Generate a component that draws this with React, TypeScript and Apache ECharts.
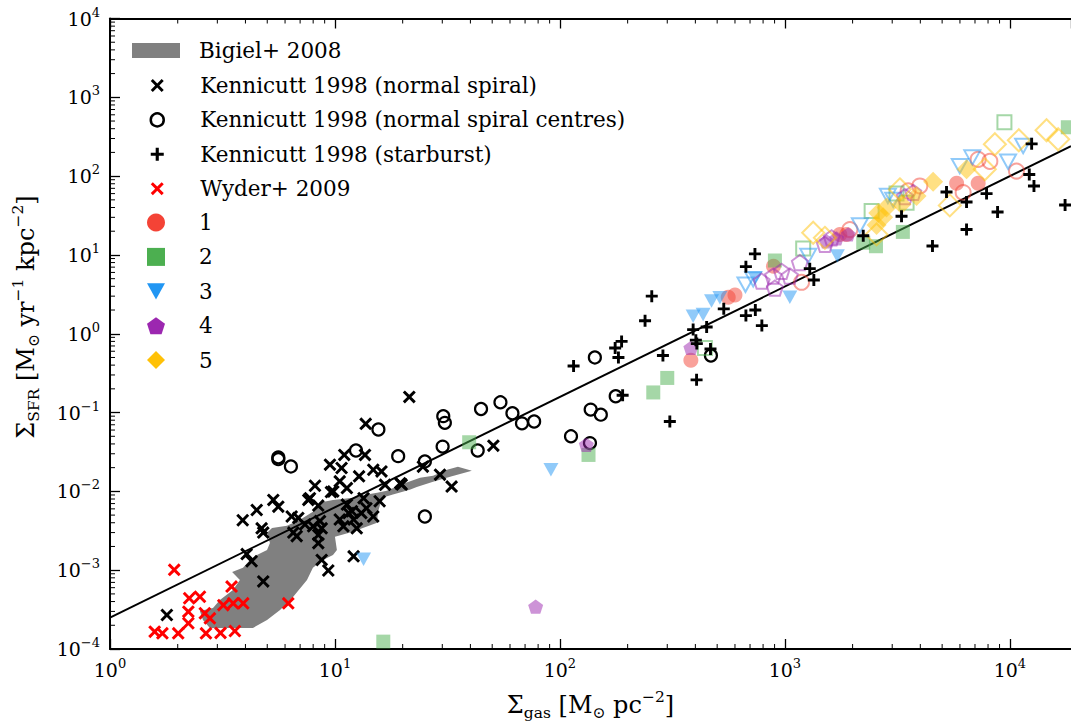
import React, { useEffect, useRef } from 'react';
import * as echarts from 'echarts';

// ---------- data (x = Σgas [M☉ pc^-2], y = ΣSFR [M☉ yr^-1 kpc^-2]) ----------
const X_MIN = 1;
const X_MAX = 18700;
const Y_MIN = 1e-4;
const Y_MAX = 1e4;

const bigielOutline: number[][] = [
  [2.51, 3.04e-4], [2.87, 3.32e-4], [3.08, 4.2e-4], [3.52, 5.6e-4], [3.78, 7.5e-4], [3.49, 9.5e-4],
  [3.9, 1.07e-3], [4.19, 1.35e-3], [4.5, 1.56e-3], [4.99, 1.81e-3], [5.14, 2.22e-3], [4.99, 2.98e-3],
  [5.25, 3.44e-3], [6.12, 3.66e-3], [6.99, 4.36e-3], [7.98, 5.5e-3], [8.58, 7.2e-3], [9.8, 7.8e-3],
  [12.0, 8.3e-3], [13.9, 9.1e-3], [15.4, 9.6e-3], [17.0, 0.0102], [20.1, 0.0125], [23.9, 0.0149],
  [27.3, 0.0158], [31.5, 0.0188], [35.2, 0.0206], [40.6, 0.0183],
  [32.5, 0.0153], [27.3, 0.0132], [23.1, 0.0114], [21.5, 0.0105], [18.1, 9.1e-3], [16.2, 8.3e-3],
  [15.5, 5.35e-3], [15.4, 3.99e-3], [13.3, 3.44e-3], [12.0, 3.07e-3], [10.0, 2.65e-3], [10.2, 1.81e-3],
  [9.8, 1.56e-3], [8.84, 1.35e-3], [7.98, 1.07e-3], [7.51, 7.5e-4], [6.51, 4.58e-4], [5.7, 3.13e-4],
  [4.99, 2.33e-4], [4.32, 1.85e-4], [3.52, 1.85e-4], [2.78, 1.85e-4], [2.59, 2.33e-4],
];

const kennicuttNormal: number[][] = [
  [21.4, 0.158], [13.7, 0.072], [50.6, 0.038], [11.0, 0.029], [13.6, 0.029], [9.5, 0.0218], [10.7, 0.0198],
  [29.3, 0.0163], [33.0, 0.0115], [19.5, 0.0127], [19.8, 0.0122], [14.8, 0.0188], [16.1, 0.0179],
  [12.8, 0.0155], [8.15, 0.0118], [10.5, 0.0134], [11.3, 0.011], [9.83, 0.01], [9.6, 0.0098], [16.7, 0.0121],
  [5.32, 0.0078], [5.6, 0.0064], [4.49, 0.0058], [3.89, 0.0043], [4.72, 0.0034], [4.8, 0.003], [6.42, 0.0048],
  [6.87, 0.0046], [7.61, 0.0078], [7.74, 0.0082], [8.43, 0.0066], [6.53, 0.003], [6.76, 0.0027],
  [7.36, 0.0038], [8.0, 0.0036], [8.58, 0.0042], [8.73, 0.0034], [8.43, 0.0028], [8.43, 0.0022],
  [10.5, 0.0044], [10.9, 0.0036], [11.5, 0.0053], [12.1, 0.0044], [12.5, 0.0034], [13.4, 0.0082],
  [13.8, 0.0061], [13.1, 0.0053], [14.8, 0.0048], [15.8, 0.0075], [11.3, 0.0068], [11.9, 0.0056],
  [4.05, 0.0016], [4.26, 0.0013], [4.8, 0.00072], [8.73, 0.00135], [9.34, 0.00099], [12.1, 0.0015],
  [1.79, 0.00027], [24.6, 0.0206],
];

const kennicuttCentres: number[][] = [
  [5.6, 0.027], [5.6, 0.0256], [6.37, 0.0207], [12.4, 0.033], [15.6, 0.061], [19.1, 0.028], [25.1, 0.024],
  [30.3, 0.09], [30.8, 0.074], [30.1, 0.037], [44.6, 0.111], [43.1, 0.033], [54.4, 0.135], [25.1, 0.0048],
  [61.5, 0.098], [67.8, 0.073], [76.8, 0.077], [112, 0.05], [137, 0.109], [152, 0.094], [136, 0.041],
  [143, 0.5], [177, 0.161], [469, 0.53],
];

const kennicuttStarburst: number[][] = [
  [115, 0.39], [176, 0.66], [188, 0.8], [182, 0.5], [190, 0.166], [256, 3.0], [239, 1.46], [287, 0.53],
  [308, 0.077], [391, 1.13], [449, 1.22], [402, 0.83], [406, 0.75], [405, 0.26], [467, 0.64], [535, 2.07],
  [671, 7.1], [736, 10.3], [671, 1.7], [739, 2.0], [790, 1.27], [1290, 6.7], [1345, 4.8], [2230, 17.5],
  [3300, 31], [4530, 13], [5230, 63], [6420, 47], [6420, 21], [7880, 60], [8820, 35], [12500, 257],
  [12200, 105], [12800, 75], [17600, 43],
];

const wyder: number[][] = [
  [1.93, 0.00101], [3.47, 0.00062], [2.25, 0.00044], [2.51, 0.00046], [2.23, 0.000298], [3.19, 0.00036],
  [3.53, 0.00038], [3.91, 0.00038], [2.64, 0.000284], [2.78, 0.000245], [2.23, 0.000212], [6.2, 0.00038],
  [1.58, 0.000166], [1.71, 0.000158], [2.01, 0.000158], [2.67, 0.000158], [3.1, 0.00016], [3.59, 0.000169],
];

const fitLine: number[][] = [[1, 2.5e-4], [18700, 240]];

const set1Filled: number[][] = [[382, 0.46], [560, 2.9], [600, 3.1], [890, 7.2], [1755, 18.2], [1880, 18.2], [5800, 81], [7230, 81]];
const set1Open: number[][] = [[1186, 4.5], [1945, 21], [3530, 65], [3980, 75], [6200, 62], [7230, 163], [8150, 154], [10700, 116]];
const set2Filled: number[][] = [[16.4, 0.000124], [39.5, 0.042], [134, 0.029], [260, 0.18], [300, 0.275], [903, 8.5], [2230, 14.3], [2540, 12.9], [3345, 19.6], [18100, 417]];
const set2Open: number[][] = [[441, 0.66], [1206, 12.1], [2430, 36], [3135, 60], [3475, 46], [9460, 483]];
const set3Filled: number[][] = [[13.4, 0.00138], [91.2, 0.0188], [391, 1.67], [433, 1.75], [472, 2.6], [514, 2.86], [736, 5.1], [1052, 2.9], [1711, 9.7]];
const set3Open: number[][] = [[668, 4.2], [723, 4.9], [1270, 9.7], [2155, 23.7], [2870, 56], [3030, 50], [5990, 134], [6810, 172], [9820, 152], [11460, 241]];
const set4Filled: number[][] = [[78, 0.000344], [131, 0.039], [382, 0.66], [1532, 14.9], [1698, 16.2], [1911, 18.2]];
const set4Open: number[][] = [[788, 4.65], [887, 5.4], [967, 6.2], [1052, 5.4], [1166, 8.0], [903, 3.8], [1506, 13.6], [1614, 16.5], [3720, 62], [3415, 55]];
const set5Filled: number[][] = [[2600, 34], [2830, 40], [2735, 30], [2556, 24], [3300, 44], [3850, 56], [4560, 85], [6420, 122]];
const set5Open: number[][] = [[1336, 19.1], [1506, 16.5], [2556, 18.2], [3245, 68], [5410, 42.5], [7740, 122], [8580, 254], [10960, 285], [14560, 382], [16400, 294]];

const minorMultipliers = [2, 3, 4, 5, 6, 7, 8, 9];
const xDecades = [1, 10, 100, 1000, 10000];
const yDecades = [1e-4, 1e-3, 1e-2, 1e-1, 1, 10, 100, 1000];

// ---------- styles ----------
const FONT = 'DejaVu Serif';
const RED = '#F44336';
const GREEN = '#4CAF50';
const BLUE = '#2196F3';
const PURPLE = '#9C27B0';
const AMBER = '#FFC107';

const plusPath = 'path://M3.8,0L6.2,0L6.2,3.8L10,3.8L10,6.2L6.2,6.2L6.2,10L3.8,10L3.8,6.2L0,6.2L0,3.8L3.8,3.8Z';
const xPath = 'path://M0,1.6L1.6,0L5,3.4L8.4,0L10,1.6L6.6,5L10,8.4L8.4,10L5,6.6L1.6,10L0,8.4L3.4,5Z';
const triDownPath = 'path://M0,0L10,0L5,9Z';
const pentagonPath = 'path://M0,-1L0.951,-0.309L0.588,0.809L-0.588,0.809L-0.951,-0.309Z';

const supLabel = (v: number) => {
  const e = Math.round(Math.log10(v));
  return `{b|10}{s|${e < 0 ? '\u2212' + -e : e}}`;
};

const tickRich = {
  b: { fontFamily: FONT, fontSize: 19, color: '#000', lineHeight: 26 },
  s: { fontFamily: FONT, fontSize: 13, color: '#000', verticalAlign: 'top', lineHeight: 14 },
};

const nameRich = {
  b: { fontFamily: FONT, fontSize: 24, color: '#000', lineHeight: 32 },
  sub: { fontFamily: FONT, fontSize: 15.5, color: '#000', verticalAlign: 'bottom', lineHeight: 17 },
  sup: { fontFamily: FONT, fontSize: 15.5, color: '#000', verticalAlign: 'top', lineHeight: 17 },
};

function buildOption() {
  const minorTicks: number[][] = [];
  xDecades.forEach((d) => minorMultipliers.forEach((m) => { if (d * m < X_MAX) minorTicks.push([d * m, 1, 0]); }));
  yDecades.forEach((d) => minorMultipliers.forEach((m) => minorTicks.push([1, d * m, 1])));

  const logAxisCommon = {
    type: 'log' as const,
    logBase: 10,
    splitLine: { show: false },
    axisLine: { show: true, lineStyle: { color: '#000', width: 2 } },
    axisTick: { show: true, inside: true, length: 10, lineStyle: { color: '#000', width: 1.3 } },
  };

  const legendText = (pad: number) => ({
    fontFamily: FONT, fontSize: 21.5, color: '#000', lineHeight: 24, padding: [0, 0, 0, pad],
  });

  const filled = (name: string, data: number[][], symbol: string, size: number, color: string) => ({
    type: 'scatter', name, data, symbol, symbolSize: size, symbolKeepAspect: true,
    itemStyle: { color, opacity: 0.5 }, z: 4,
  });
  const open = (name: string, data: number[][], symbol: string, size: number, color: string) => ({
    type: 'scatter', name, data, symbol, symbolSize: size, symbolKeepAspect: true,
    itemStyle: { color: 'rgba(0,0,0,0)', borderColor: color, borderWidth: 2, opacity: 0.5 }, z: 4,
  });
  const legendOnly = (name: string, symbol: string, color: string) => ({
    type: 'scatter', name, data: [], symbol, symbolKeepAspect: true, itemStyle: { color, opacity: 1 },
  });

  return {
    animation: false,
    backgroundColor: '#fff',
    grid: { left: 110, right: 0, top: 18.5, bottom: 74, containLabel: false, outerBoundsMode: 'none' },
    xAxis: [
      {
        ...logAxisCommon,
        position: 'bottom',
        min: X_MIN,
        max: X_MAX,
        axisLabel: { margin: 8, formatter: supLabel, rich: tickRich, showMaxLabel: false },
        name: '{b|\u03A3}{sub|gas}{b| [M}{sub|\u2299}{b| pc}{sup|\u22122}{b|]}',
        nameLocation: 'middle',
        nameGap: 40,
        nameTextStyle: { rich: nameRich },
      },
      {
        ...logAxisCommon,
        position: 'top',
        min: X_MIN,
        max: X_MAX,
        axisLabel: { show: false },
      },
    ],
    yAxis: {
      ...logAxisCommon,
      min: Y_MIN,
      max: Y_MAX,
      axisLabel: { margin: 10, formatter: supLabel, rich: tickRich },
    },
    legend: [
      {
        data: [{ name: 'Bigiel+ 2008', icon: 'rect', itemStyle: { color: '#808080', opacity: 1 } }],
        orient: 'vertical', left: 132, top: 38.5, padding: 0, itemGap: 10.4,
        itemWidth: 48, itemHeight: 15, selectedMode: false, textStyle: legendText(14),
      },
      {
        data: [
          { name: 'Kennicutt 1998 (normal spiral)', icon: xPath },
          {
            name: 'Kennicutt 1998 (normal spiral centres)', icon: 'circle',
            itemStyle: { color: 'rgba(0,0,0,0)', borderColor: '#000', borderWidth: 2.5 },
          },
          { name: 'Kennicutt 1998 (starburst)', icon: plusPath },
          { name: 'Wyder+ 2009', icon: xPath },
        ],
        orient: 'vertical', left: 149.5, top: 73.5, padding: 0, itemGap: 10.4,
        itemWidth: 13, itemHeight: 13, selectedMode: false, textStyle: legendText(31.5),
      },
      {
        data: ['1', '2', '3', '4', '5'],
        orient: 'vertical', left: 147, top: 210.5, padding: 0, itemGap: 10.4,
        itemWidth: 18, itemHeight: 18, selectedMode: false, textStyle: legendText(29),
      },
    ],
    graphic: [
      {
        type: 'text',
        x: 26,
        y: 317,
        rotation: Math.PI / 2,
        style: {
          text: '{b|\u03A3}{sub|SFR}{b| [M}{sub|\u2299}{b| yr}{sup|\u22121}{b| kpc}{sup|\u22122}{b|]}',
          rich: nameRich,
          align: 'center',
          verticalAlign: 'middle',
        },
      },
    ],
    series: [
      {
        type: 'custom',
        name: 'Bigiel+ 2008',
        data: [[1, 1]],
        itemStyle: { color: '#808080', opacity: 1 },
        silent: true,
        z: 1,
        renderItem: (_params: any, api: any) => ({
          type: 'polygon',
          shape: { points: bigielOutline.map((p) => api.coord(p)) },
          style: { fill: '#808080' },
        }),
      },
      {
        type: 'custom',
        name: 'minor ticks',
        data: minorTicks,
        silent: true,
        z: 6,
        renderItem: (params: any, api: any) => {
          const cs = params.coordSys;
          const st = { stroke: '#000', lineWidth: 1 };
          if (api.value(2) === 0) {
            const px = api.coord([api.value(0), 1])[0];
            return {
              type: 'group',
              children: [
                { type: 'line', shape: { x1: px, y1: cs.y + cs.height, x2: px, y2: cs.y + cs.height - 5 }, style: st },
                { type: 'line', shape: { x1: px, y1: cs.y, x2: px, y2: cs.y + 5 }, style: st },
              ],
            };
          }
          const py = api.coord([1, api.value(1)])[1];
          return { type: 'line', shape: { x1: cs.x, y1: py, x2: cs.x + 5, y2: py }, style: st };
        },
      },
      {
        type: 'line',
        name: 'fit',
        data: fitLine,
        symbol: 'none',
        lineStyle: { color: '#000', width: 2 },
        silent: true,
        z: 2,
      },
      {
        type: 'scatter', name: 'Kennicutt 1998 (normal spiral)', data: kennicuttNormal,
        symbol: xPath, symbolSize: 13, itemStyle: { color: '#000', opacity: 1 }, z: 3,
      },
      {
        type: 'scatter', name: 'Kennicutt 1998 (normal spiral centres)', data: kennicuttCentres,
        symbol: 'circle', symbolSize: 12,
        itemStyle: { color: 'rgba(0,0,0,0)', borderColor: '#000', borderWidth: 2.2, opacity: 1 }, z: 3,
      },
      {
        type: 'scatter', name: 'Kennicutt 1998 (starburst)', data: kennicuttStarburst,
        symbol: plusPath, symbolSize: 12, itemStyle: { color: '#000', opacity: 1 }, z: 5,
      },
      {
        type: 'scatter', name: 'Wyder+ 2009', data: wyder,
        symbol: xPath, symbolSize: 13, itemStyle: { color: '#FF0000', opacity: 1 }, z: 3,
      },
      filled('set1 filled', set1Filled, 'circle', 15, RED),
      open('set1 open', set1Open, 'circle', 15, RED),
      filled('set2 filled', set2Filled, 'rect', 14, GREEN),
      open('set2 open', set2Open, 'rect', 14, GREEN),
      filled('set3 filled', set3Filled, triDownPath, 15, BLUE),
      open('set3 open', set3Open, triDownPath, 16, BLUE),
      filled('set4 filled', set4Filled, pentagonPath, 15, PURPLE),
      open('set4 open', set4Open, pentagonPath, 16, PURPLE),
      filled('set5 filled', set5Filled, 'diamond', 20, AMBER),
      open('set5 open', set5Open, 'diamond', 22, AMBER),
      legendOnly('1', 'circle', RED),
      legendOnly('2', 'rect', GREEN),
      legendOnly('3', triDownPath, BLUE),
      legendOnly('4', pentagonPath, PURPLE),
      legendOnly('5', 'diamond', AMBER),
    ],
  };
}

export default function App() {
  const ref = useRef<HTMLDivElement>(null);
  useEffect(() => {
    if (!ref.current) return;
    const chart = echarts.init(ref.current, null, { renderer: 'svg' });
    chart.setOption(buildOption() as any);
    return () => chart.dispose();
  }, []);
  return (
    <div
      ref={ref}
      style={{ position: 'fixed', left: 0, top: 0, width: 1071, height: 723, background: '#fff' }}
    />
  );
}
